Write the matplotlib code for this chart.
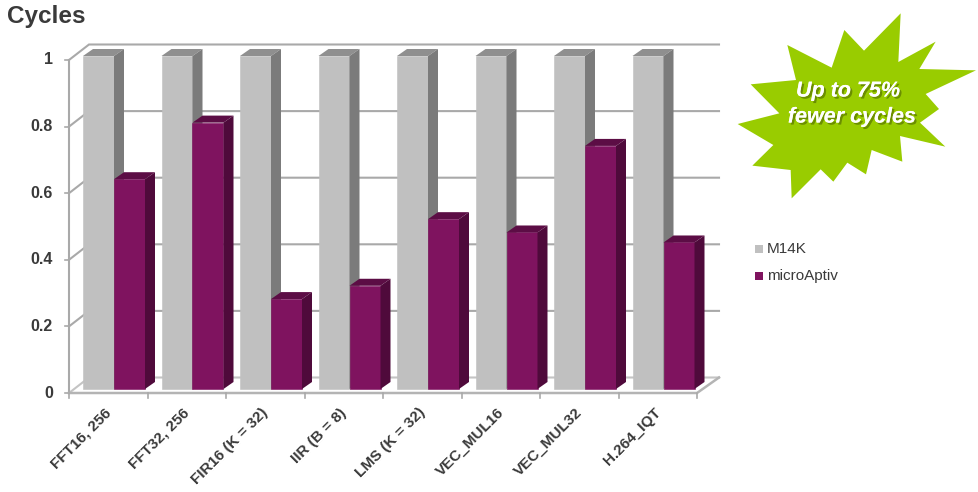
import matplotlib
matplotlib.use('Agg')
import matplotlib.pyplot as plt
import matplotlib.patheffects as pe
from matplotlib.patches import Polygon
import numpy as np

plt.rcParams['font.family'] = ['Liberation Sans', 'DejaVu Sans']

categories = ['FFT16, 256', 'FFT32, 256', 'FIR16 (K = 32)', 'IIR (B = 8)',
              'LMS (K = 32)', 'VEC_MUL16', 'VEC_MUL32', 'H.264_IQT']
m14k = [1, 1, 1, 1, 1, 1, 1, 1]
microaptiv = [0.63, 0.80, 0.27, 0.31, 0.51, 0.47, 0.73, 0.44]
yticks = [0, 0.2, 0.4, 0.6, 0.8, 1]
ytick_labels = ['0', '0.2', '0.4', '0.6', '0.8', '1']

W, H = 979, 492
# front plane of the fake 3d box, in pixels
LEFT, RIGHT, BOTTOM, TOP = 69, 697, 393, 60
PX = len(categories) / (RIGHT - LEFT)   # data units per pixel, x
PY = 1.0 / (BOTTOM - TOP)               # data units per pixel, y

GRID = '#a9a9a9'
TEXT = '#3a3a3a'

fig = plt.figure(figsize=(W / 100, H / 100), dpi=100)
ax = fig.add_axes([LEFT / W, 1 - BOTTOM / H, (RIGHT - LEFT) / W, (BOTTOM - TOP) / H])
ax.set_xlim(0, len(categories))
ax.set_ylim(0, 1)
ax.patch.set_visible(False)
for s in ax.spines.values():
    s.set_visible(False)
ax.set_xticks([])
ax.set_yticks([])

# box offset from front plane to back wall
bx, by = 20 * PX, 15.5 * PY
n = len(categories)
for t, lab in zip(yticks, ytick_labels):
    # the floor line (t = 0) is lighter
    c = '#c4c4c4' if t == 0 else GRID
    ax.plot([0, bx, n + 22 * PX], [t, t + by, t + by], color=c, lw=1.5, clip_on=False,
            solid_joinstyle='miter', zorder=1)
    ax.plot([-4 * PX, 0], [t, t], color=GRID, lw=1.2, clip_on=False, zorder=1)
    ax.text(-16 * PX, t, lab, ha='right', va='center',
            fontsize=11.5, fontweight='bold', color=TEXT)
ax.plot([0, 0], [0, 1], color=GRID, lw=1.5, clip_on=False, zorder=1)
ax.plot([0, n, n + 22 * PX], [0, 0, by], color='#b4b4b4', lw=1.8, clip_on=False, zorder=1)
for i in range(n + 1):
    ax.plot([i, i], [0, -5 * PY], color=GRID, lw=1.2, clip_on=False, zorder=1)

# bars
bar_w = 31 * PX
start = 14 * PX
base = 4 * PY
dx, dy = 10 * PX, 7 * PY


def draw_bar(x, v, front, top, side, z):
    ax.bar(x, v, bar_w, bottom=base, align='edge', color=front, edgecolor=front, lw=0.4,
           zorder=z, clip_on=False)
    ax.add_patch(Polygon([(x, base + v), (x + bar_w, base + v), (x + bar_w + dx, base + v + dy),
                          (x + dx, base + v + dy)], closed=True, fc=top, ec='none', zorder=z, clip_on=False))
    ax.add_patch(Polygon([(x + bar_w, base), (x + bar_w + dx, base + dy), (x + bar_w + dx, base + v + dy),
                          (x + bar_w, base + v)], closed=True, fc=side, ec='none', zorder=z, clip_on=False))


for i in range(n):
    draw_bar(i + start, m14k[i], '#c0c0c0', '#8f8f8f', '#7b7b7b', 3)
    draw_bar(i + start + bar_w, microaptiv[i], '#7f135f', '#5c0d45', '#4f0a3b', 4)
    ax.annotate(categories[i], (i + 0.5, 0), xytext=(-3, -9), textcoords='offset points',
                rotation=45, rotation_mode='anchor', ha='right', va='top',
                fontsize=11, fontweight='bold', color=TEXT, annotation_clip=False)

# overlay in pixel coordinates: title, starburst, legend
ov = fig.add_axes([0, 0, 1, 1])
ov.set_xlim(0, W)
ov.set_ylim(H, 0)
ov.axis('off')
ov.patch.set_visible(False)

ov.text(7, 17, 'Cycles', fontsize=17.5, fontweight='bold', color=TEXT, va='center', ha='left')

star_zoom = [(542, 40), (432, 152), (373, 90), (335, 203), (202, 135), (228, 240), (92, 253),
             (178, 340), (53, 372), (160, 435), (97, 497), (212, 510), (215, 595), (302, 508),
             (340, 545), (382, 488), (438, 523), (455, 450), (547, 485), (540, 408), (676, 440),
             (600, 368), (657, 327), (617, 282), (768, 211), (598, 207), (647, 125), (535, 186)]
star = np.array(star_zoom) / 3 + [720, 0]
ov.add_patch(Polygon(star, closed=True, fc='#99cc00', ec='none'))
shadow = [pe.withSimplePatchShadow(offset=(1.5, -1.5), shadow_rgbFace='#4d6600', alpha=0.6), pe.Normal()]
for txt, cx, cy in [('Up to 75%', 848, 91), ('fewer cycles', 852, 117)]:
    ov.text(cx, cy, txt, fontsize=15.5, fontweight='bold', style='italic', color='white',
            ha='center', va='center', path_effects=shadow)

for y, col, lab in [(249, '#c0c0c0', 'M14K'), (276, '#7f135f', 'microAptiv')]:
    ov.add_patch(plt.Rectangle((755, y - 4), 8, 8, fc=col, ec='none'))
    ov.text(767, y, lab, fontsize=11, color=TEXT, va='center', ha='left')

fig.savefig('out.png', dpi=100)
